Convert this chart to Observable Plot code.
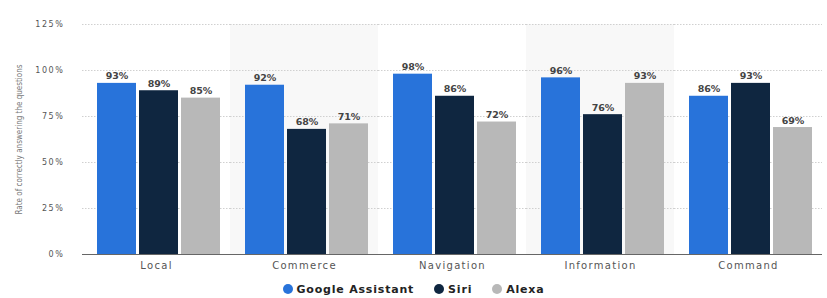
<!DOCTYPE html>
<html>
<head>
<meta charset="utf-8">
<script src="https://cdn.jsdelivr.net/npm/d3@7"></script>
<script src="https://cdn.jsdelivr.net/npm/@observablehq/plot@0.6"></script>
<style>
  html, body { margin: 0; padding: 0; background: #fff; }
  #chart { width: 827px; }
  .legend { display: flex; justify-content: center; align-items: center; height: 18px;
    font-family: "DejaVu Sans", sans-serif; font-weight: bold; font-size: 11px; color: #222; letter-spacing: 0.8px; margin-left: 0px; }
  .legend .item { display: flex; align-items: center; margin: 0 10px; }
  .legend .dot { width: 10px; height: 10px; border-radius: 50%; margin-right: 4px; }
</style>
</head>
<body>
<div id="chart"></div>
<script>
const categories = ["Local", "Commerce", "Navigation", "Information", "Command"];
const series = ["Google Assistant", "Siri", "Alexa"];
const google = [93, 92, 98, 96, 86];
const siri = [89, 68, 86, 76, 93];
const alexa = [85, 71, 72, 93, 69];
const colors = ["#2873da", "#0f2640", "#b8b8b8"];
const shaded = ["Commerce", "Information"];
const yTicks = [0, 25, 50, 75, 100, 125];
const yLabel = "Rate of correctly answering the questions";

const values = [google, siri, alexa];
const data = categories.flatMap((c, i) => series.map((s, j) => ({category: c, series: s, value: values[j][i]})));

const chart = Plot.plot({
  width: 827,
  height: 280,
  marginTop: 24,
  marginBottom: 26,
  marginLeft: 81,
  marginRight: 4,
  style: {fontFamily: "DejaVu Sans, sans-serif", background: "#fff"},
  fx: {domain: categories, padding: 0, axis: "bottom", label: null, tickSize: 0, tickPadding: 7, fontSize: 10},
  x: {domain: series, paddingInner: 0.08, paddingOuter: 0.27, align: 0.6, axis: null},
  y: {domain: [0, 125], axis: null},
  color: {domain: series, range: colors},
  marks: [
    Plot.barY(shaded, {fx: d => d, y1: 0, y2: 125, fill: "#f8f8f8"}),
    Plot.gridY(yTicks.filter(t => t > 0), {stroke: "#d0d0d0", strokeOpacity: 1, strokeDasharray: "1.5,1.5"}),
    Plot.barY(data, {fx: "category", x: "series", y: "value", fill: "series"}),
    Plot.text(data, {fx: "category", x: "series", y: "value", text: d => d.value + "%", lineAnchor: "bottom", dy: -4, fill: "#444", fontSize: 9.5, fontWeight: 600, style: "letter-spacing:1.2px"}),
    Plot.ruleY([0], {stroke: "#666", strokeWidth: 1}),
    Plot.axisY({ticks: yTicks, tickFormat: d => d + "%", tickSize: 0, tickPadding: 18, fontSize: 8, fill: "#555", label: yLabel, labelAnchor: "center", labelArrow: false, labelOffset: 66})
  ]
});

// style tweaks
d3.select(chart).selectAll("[aria-label='fx-axis tick label'] text, [aria-label='fx-axis tick label']").attr("fill", "#555").style("letter-spacing", "1.3px");
d3.select(chart).selectAll("[aria-label='y-axis tick label']").style("letter-spacing", "1.6px");
d3.select(chart).selectAll("[aria-label='y-axis label']").attr("font-size", 8).attr("fill", "#777").style("font-family", "'DejaVu Sans Condensed', 'Liberation Sans Narrow', sans-serif").style("font-stretch", "condensed");
d3.select(chart).selectAll("[aria-label='y-axis label'] text").text(yLabel);

document.getElementById("chart").appendChild(chart);

const legend = d3.select("#chart").append("div").attr("class", "legend");
series.forEach((s, i) => {
  const item = legend.append("div").attr("class", "item");
  item.append("div").attr("class", "dot").style("background", colors[i]);
  item.append("span").text(s);
});
</script>
</body>
</html>
